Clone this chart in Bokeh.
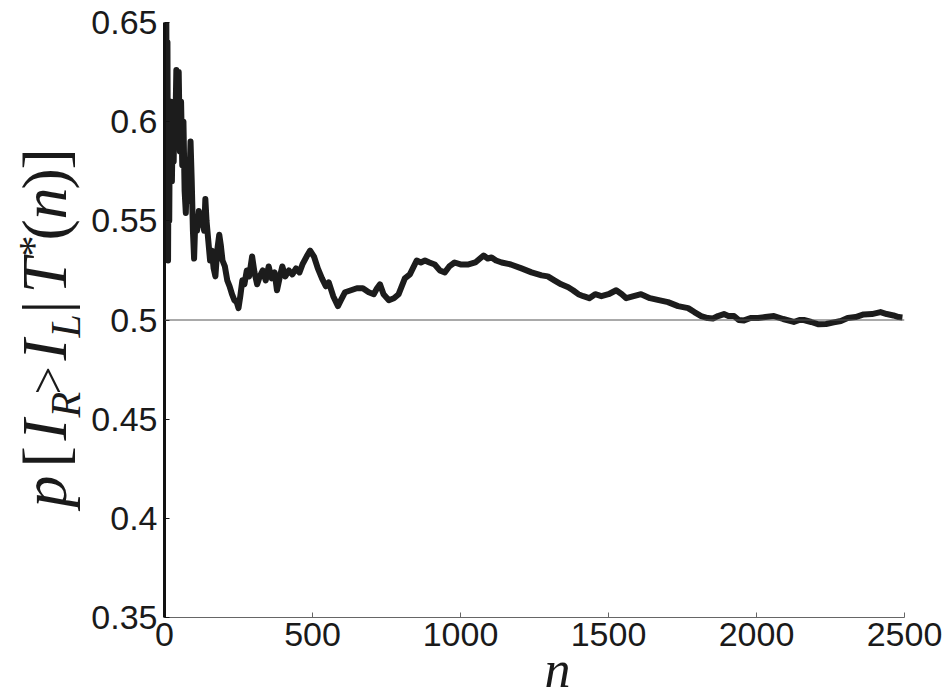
import numpy as np
from bokeh.plotting import figure
from bokeh.layouts import row, column
from bokeh.models import Span, FixedTicker, Range1d
from bokeh.core.properties import value
from bokeh.embed import file_html
from bokeh.resources import INLINE

# ---- data ----
n_vals = [1, 2, 4, 6, 8, 10, 12, 14, 16, 18, 20, 22, 25, 28, 31, 34, 37, 40, 44, 48,
          52, 56, 60, 64, 68, 72, 76, 82, 88, 92, 96, 100, 104, 110, 116, 122, 128, 134,
          138, 142, 148, 154, 160, 166, 172, 178, 185, 190, 196, 204, 212, 220, 228, 236,
          244, 250, 256, 263, 270, 278, 286, 296, 304, 313, 322, 332, 342, 352, 362, 372,
          380, 390, 398, 408, 420, 432, 444, 456, 466, 480, 492, 505, 518, 532, 545, 555,
          570, 586, 596, 610, 630, 650, 670, 690, 707, 718, 728, 740, 758, 775, 791, 812,
          829, 852, 866, 880, 895, 913, 930, 947, 962, 980, 1000, 1027, 1050, 1078, 1092,
          1105, 1120, 1139, 1170, 1206, 1240, 1274, 1295, 1317, 1340, 1364, 1380, 1398,
          1415, 1435, 1455, 1476, 1500, 1526, 1545, 1560, 1585, 1610, 1640, 1670, 1701,
          1735, 1769, 1790, 1813, 1835, 1853, 1870, 1890, 1905, 1924, 1940, 1958, 1980,
          2005, 2030, 2059, 2090, 2126, 2145, 2160, 2185, 2210, 2235, 2261, 2285, 2308,
          2335, 2362, 2390, 2419, 2440, 2463, 2480, 2493]
p_vals = [0.70, 0.66, 0.55, 0.66, 0.56, 0.64, 0.53, 0.60, 0.55, 0.60, 0.57, 0.61, 0.57,
          0.60, 0.58, 0.61, 0.60, 0.626, 0.60, 0.625, 0.585, 0.61, 0.578, 0.60, 0.565,
          0.554, 0.575, 0.56, 0.59, 0.57, 0.545, 0.531, 0.55, 0.545, 0.555, 0.548, 0.55,
          0.545, 0.561, 0.55, 0.54, 0.53, 0.535, 0.526, 0.522, 0.535, 0.543, 0.538, 0.53,
          0.527, 0.52, 0.517, 0.513, 0.51, 0.509, 0.506, 0.512, 0.52, 0.518, 0.525, 0.522,
          0.532, 0.524, 0.518, 0.522, 0.525, 0.52, 0.527, 0.521, 0.524, 0.515, 0.522, 0.527,
          0.522, 0.525, 0.523, 0.526, 0.524, 0.528, 0.532, 0.535, 0.532, 0.526, 0.521,
          0.517, 0.519, 0.512, 0.507, 0.51, 0.514, 0.515, 0.516, 0.516, 0.514, 0.513, 0.516,
          0.518, 0.513, 0.510, 0.511, 0.513, 0.521, 0.523, 0.530, 0.529, 0.530, 0.529, 0.528,
          0.525, 0.524, 0.527, 0.529, 0.528, 0.528, 0.529, 0.5325, 0.531, 0.5315, 0.530,
          0.529, 0.528, 0.526, 0.524, 0.5225, 0.522, 0.520, 0.518, 0.5165, 0.515, 0.513,
          0.512, 0.511, 0.513, 0.512, 0.513, 0.515, 0.513, 0.511, 0.512, 0.513, 0.511, 0.510,
          0.509, 0.507, 0.506, 0.504, 0.502, 0.501, 0.5008, 0.502, 0.503, 0.502, 0.502, 0.500,
          0.4998, 0.501, 0.501, 0.5015, 0.502, 0.5005, 0.499, 0.500, 0.500, 0.499, 0.4978,
          0.498, 0.4988, 0.4995, 0.501, 0.5015, 0.5028, 0.503, 0.504, 0.503, 0.5023, 0.5015,
          0.5013]
x_ticks = [0, 500, 1000, 1500, 2000, 2500]
y_ticks = [0.35, 0.4, 0.45, 0.5, 0.55, 0.6, 0.65]
y_tick_labels = {0.35: "0.35", 0.4: "0.4", 0.45: "0.45", 0.5: "0.5",
                 0.55: "0.55", 0.6: "0.6", 0.65: "0.65"}
ref_level = 0.5
x_label = "n"
# y label pieces
y_label_text = ["p", "[", "I", "R", ">", "I", "L", "|", "T", "*", "(", "n", ")", "]"]
y_label_style = ["italic", "normal", "italic", "italic", "normal", "italic", "italic",
                 "normal", "italic", "normal", "normal", "italic", "normal", "normal"]
y_label_size = [64, 64, 64, 42, 50, 64, 42, 64, 64, 42, 64, 64, 64, 64]
# positions in the page (start along the text, baseline x)
y_label_pos = [507, 467, 440, 417, 394, 360, 337, 313, 293, 256, 240, 219, 189, 169]
y_label_base = [60, 60, 60, 76, 60, 60, 76, 60, 60, 44, 60, 60, 60, 60]

W, H = 945, 692
LW = 88          # width of the y-label strip
MH = 660         # main figure height
BH = H - MH      # x-label strip height
INK = "#1a1a1a"
serif = "Liberation Serif"
SHIFT = 0.25     # offset of the drawn baseline from the anchor, in em

# ---- main plot ----
p = figure(width=W - LW, height=MH, output_backend="svg", toolbar_location=None,
           x_range=Range1d(0, 2500), y_range=Range1d(0.35, 0.65),
           min_border_left=162 - LW, min_border_right=41, min_border_top=22,
           min_border_bottom=43)
p.background_fill_color = "white"
p.border_fill_color = "white"
p.outline_line_color = None
p.grid.visible = False

p.add_layout(Span(location=ref_level, dimension="width", line_color="#555555",
                  line_width=1))
p.line(n_vals, p_vals, line_color="#1c1c1c", line_width=6, line_join="round")

p.xaxis.ticker = FixedTicker(ticks=x_ticks)
p.yaxis.ticker = FixedTicker(ticks=y_ticks)
p.yaxis.major_label_overrides = y_tick_labels
for ax in (p.xaxis[0], p.yaxis[0]):
    ax.major_label_text_font = "Liberation Sans"
    ax.major_label_text_font_size = "34px"
    ax.major_label_text_color = INK
    ax.major_tick_in = 5
    ax.major_tick_out = 0
    ax.minor_tick_line_color = None
p.xaxis.axis_line_color = "#666666"
p.xaxis.axis_line_width = 1
p.xaxis.major_tick_line_color = "#666666"
p.xaxis.major_label_standoff = 5
p.yaxis.axis_line_color = "#111111"
p.yaxis.axis_line_width = 3
p.yaxis.major_tick_line_color = "#111111"
p.yaxis.major_label_standoff = 7

# ---- y-label strip ----
left = figure(width=LW, height=H, output_backend="svg", toolbar_location=None,
              x_range=Range1d(0, LW), y_range=Range1d(0, H),
              x_axis_location=None, y_axis_location=None, min_border=0)
left.outline_line_color = None
left.grid.visible = False
left.background_fill_color = "white"
left.border_fill_color = "white"
for t, st, sz, ry, bx in zip(y_label_text, y_label_style, y_label_size,
                             y_label_pos, y_label_base):
    left.text(x=[bx - SHIFT * sz], y=[H - ry], text=[t], angle=np.pi / 2,
              text_font=value(serif), text_font_style=st,
              text_font_size=value(f"{sz}px"), text_align="left",
              text_baseline="alphabetic", text_color=INK)

# ---- x-label strip ----
nsize = 52
bottom = figure(width=W - LW, height=BH, output_backend="svg", toolbar_location=None,
                x_range=Range1d(0, W - LW), y_range=Range1d(0, BH),
                x_axis_location=None, y_axis_location=None, min_border=0)
bottom.outline_line_color = None
bottom.grid.visible = False
bottom.background_fill_color = "white"
bottom.border_fill_color = "white"
bottom.text(x=[543 - LW], y=[(H - 684) + SHIFT * nsize + 2], text=[x_label],
            text_font=value(serif), text_font_style="italic",
            text_font_size=value(f"{nsize}px"), text_align="center",
            text_baseline="alphabetic", text_color=INK)

layout = row(left, column(p, bottom, spacing=0), spacing=0)
open("out.html", "w").write(file_html(layout, INLINE))
